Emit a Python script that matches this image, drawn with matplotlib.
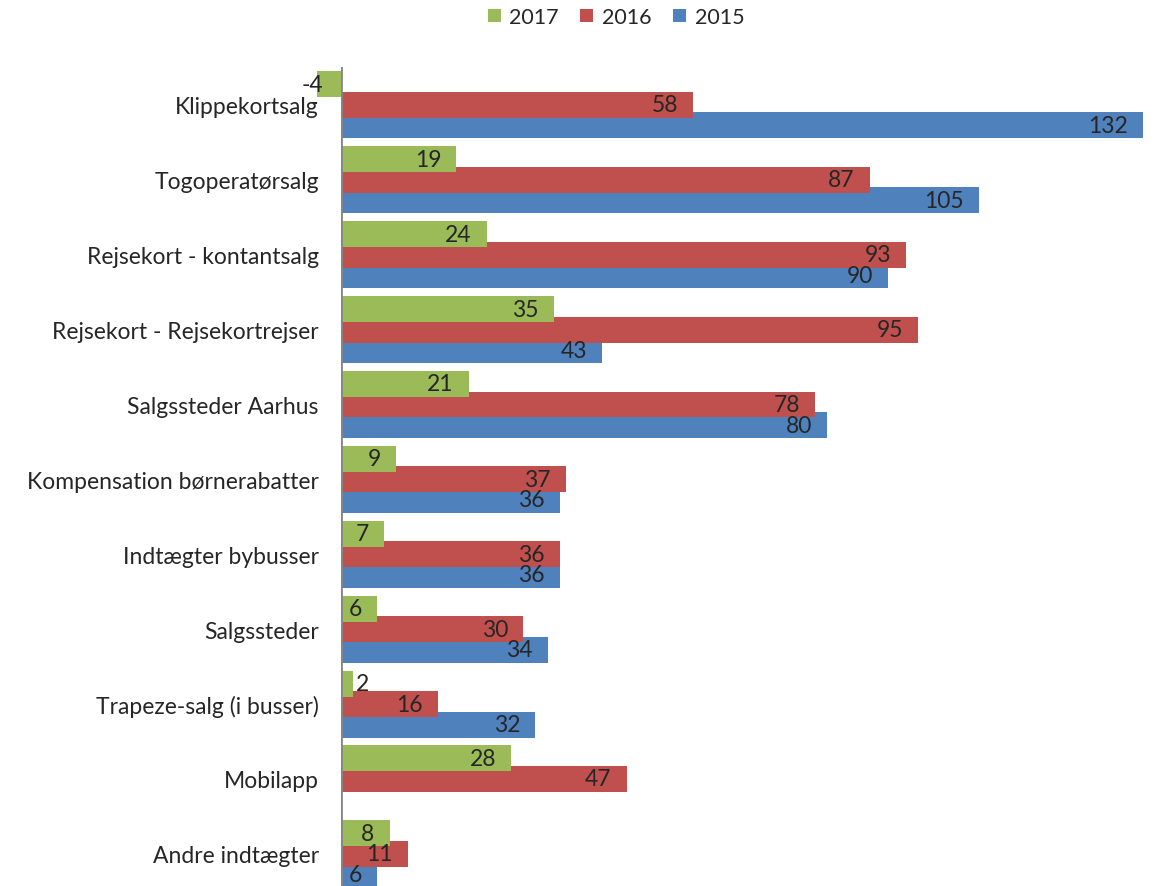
import numpy as np
import matplotlib
matplotlib.use("Agg")
import matplotlib.pyplot as plt

plt.rcParams["font.family"] = ["Lato", "DejaVu Sans"]

kategorier = [
    "Klippekortsalg",
    "Togoperatørsalg",
    "Rejsekort - kontantsalg",
    "Rejsekort - Rejsekortrejser",
    "Salgssteder Aarhus",
    "Kompensation børnerabatter",
    "Indtægter bybusser",
    "Salgssteder",
    "Trapeze-salg (i busser)",
    "Mobilapp",
    "Andre indtægter",
]
v2017 = [-4, 19, 24, 35, 21, 9, 7, 6, 2, 28, 8]
v2016 = [58, 87, 93, 95, 78, 37, 36, 30, 16, 47, 11]
v2015 = [132, 105, 90, 43, 80, 36, 36, 34, 32, np.nan, 6]

serier = [("2017", v2017, "#9BBB59"), ("2016", v2016, "#C0504D"), ("2015", v2015, "#4F81BD")]
tekstfarve = "#262626"
fs = 16.5

fig = plt.figure(figsize=(11.56, 8.87), dpi=100)
ax = fig.add_axes([341 / 1156, 0.0, (1143 - 341) / 1156, 1 - 68 / 887])

y = np.arange(len(kategorier))
hoejde = 0.347
skridt = 0.274

# 2015 tegnes forst, sa 2016 og 2017 ligger ovenpa
for i, (navn, vaerdier, farve) in enumerate(serier):
    forskyd = (i - 1) * skridt
    ax.barh(y + forskyd, vaerdier, height=hoejde, color=farve, label=navn,
            zorder=3 - i, clip_on=False)
    for yy, v in zip(y + forskyd, vaerdier):
        if np.isnan(v):
            continue
        if v < 0:
            ha, dx = "right", 7
        elif v < 3:
            ha, dx = "left", 3
        else:
            ha, dx = "right", -15
        ax.annotate(f"{v:g}", (v, yy), xytext=(dx, 0), textcoords="offset pixels",
                    ha=ha, va="center", fontsize=fs, color=tekstfarve, zorder=10,
                    annotation_clip=False)

ax.set_xlim(0, 132)
ax.set_ylim(10.43, -0.507)
ax.set_yticks(y)
ax.set_yticklabels(kategorier, fontsize=fs, color=tekstfarve)
ax.tick_params(axis="y", length=0, pad=16)
ax.set_xticks([])
for s in ["top", "right", "bottom", "left"]:
    ax.spines[s].set_visible(False)
ax.axvline(0, color="#868686", lw=2, zorder=5)

handles, labels = ax.get_legend_handles_labels()
fig.legend(handles, labels, loc="center", bbox_to_anchor=(616 / 1156, 1 - 18 / 887), ncol=3,
           frameon=False, fontsize=15.5, handlelength=0.6, handleheight=0.6,
           handletextpad=0.4, columnspacing=1.0, labelcolor=tekstfarve)

fig.savefig("out.png", dpi=100)
